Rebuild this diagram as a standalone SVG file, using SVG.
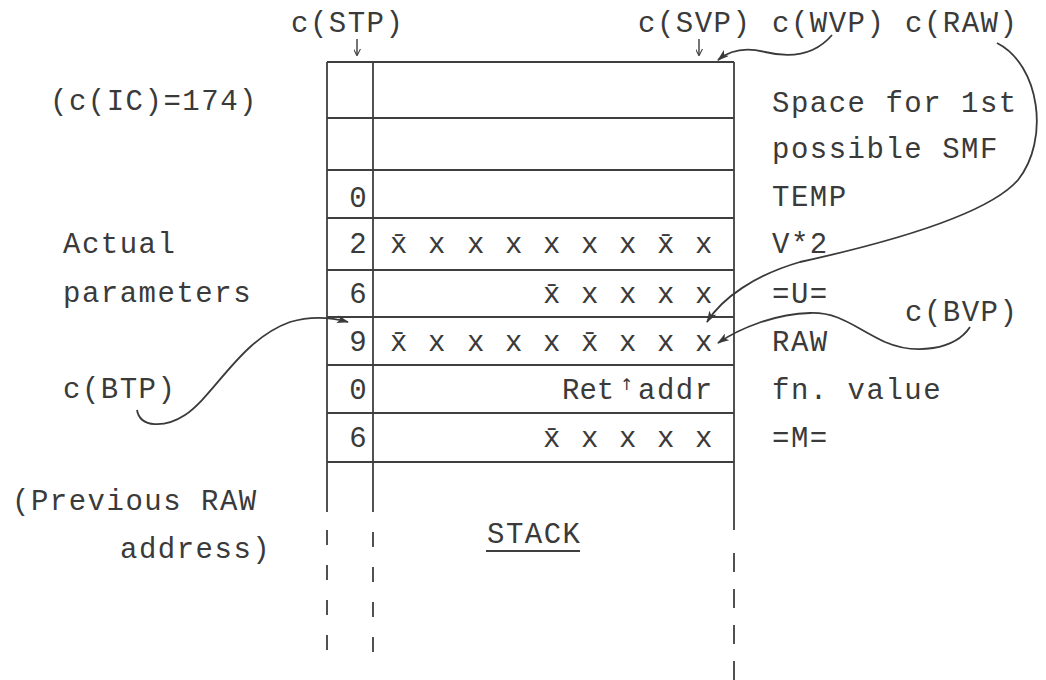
<svg xmlns="http://www.w3.org/2000/svg" width="1046" height="680" viewBox="0 0 1046 680">
<style>
  text { font-family: "Liberation Mono", "DejaVu Sans Mono", monospace; font-size: 29px; letter-spacing: 1.5px; fill: #3a3a3a; }
  .ln { stroke: #3f3f3f; stroke-width: 1.8; fill: none; }
  .cv { stroke: #3a3a3a; stroke-width: 1.8; fill: none; marker-end: url(#ah); }
  .sm { stroke: #3a3a3a; stroke-width: 1.4; fill: none; marker-end: url(#ahs); }
  .dg { text-anchor: middle; letter-spacing: 0; }
  .up { font-family: "DejaVu Sans", "Liberation Sans", sans-serif; font-size: 16px; letter-spacing: 0; fill: #3a3a3a; }
</style>
<defs>
  <marker id="ah" viewBox="0 0 12 8" refX="11" refY="4" markerWidth="12" markerHeight="8" markerUnits="userSpaceOnUse" orient="auto">
    <path d="M0,0 L12,4 L0,8 L3,4 z" fill="#3a3a3a"/>
  </marker>
  <marker id="ahs" viewBox="0 0 8 8" refX="7" refY="4" markerWidth="7" markerHeight="7" markerUnits="userSpaceOnUse" orient="auto">
    <path d="M0,0 L8,4 L0,8" fill="none" stroke="#3a3a3a" stroke-width="1.2"/>
  </marker>
</defs>
<rect width="1046" height="680" fill="#ffffff"/>

<g id="stack">
  <line class="ln" x1="327" y1="62" x2="734" y2="62"/>
  <line class="ln" x1="327" y1="118" x2="734" y2="118"/>
  <line class="ln" x1="327" y1="170" x2="734" y2="170"/>
  <line class="ln" x1="327" y1="218" x2="734" y2="218"/>
  <line class="ln" x1="327" y1="270" x2="734" y2="270"/>
  <line class="ln" x1="327" y1="317" x2="734" y2="317"/>
  <line class="ln" x1="327" y1="365" x2="734" y2="365"/>
  <line class="ln" x1="327" y1="413" x2="734" y2="413"/>
  <line class="ln" x1="327" y1="462" x2="734" y2="462"/>
  <line class="ln" x1="327" y1="62" x2="327" y2="512"/>
  <line class="ln" x1="373" y1="62" x2="373" y2="512"/>
  <line class="ln" x1="734" y1="62" x2="734" y2="530"/>
  <line class="ln" x1="327" y1="530" x2="327" y2="660" stroke-dasharray="15 20" stroke-width="1.5"/>
  <line class="ln" x1="373" y1="532" x2="373" y2="662" stroke-dasharray="15 20" stroke-width="1.5"/>
  <line class="ln" x1="734" y1="553" x2="734" y2="680" stroke-dasharray="19 17" stroke-width="1.5"/>
  <text class="dg" x="358" y="207">0</text>
  <text class="dg" x="358" y="253">2</text>
  <text class="dg" x="358" y="303">6</text>
  <text class="dg" x="358" y="351">9</text>
  <text class="dg" x="358" y="399">0</text>
  <text class="dg" x="358" y="447">6</text>
  <text y="253"><tspan x="390">x̄</tspan><tspan x="428">x</tspan><tspan x="467">x</tspan><tspan x="505">x</tspan><tspan x="543">x</tspan><tspan x="581">x</tspan><tspan x="619">x</tspan><tspan x="657">x̄</tspan><tspan x="695">x</tspan></text>
  <text y="303"><tspan x="543">x̄</tspan><tspan x="581">x</tspan><tspan x="619">x</tspan><tspan x="657">x</tspan><tspan x="695">x</tspan></text>
  <text y="351"><tspan x="390">x̄</tspan><tspan x="428">x</tspan><tspan x="467">x</tspan><tspan x="505">x</tspan><tspan x="543">x</tspan><tspan x="581">x̄</tspan><tspan x="619">x</tspan><tspan x="657">x</tspan><tspan x="695">x</tspan></text>
  <text y="399"><tspan x="562" letter-spacing="0">Ret</tspan><tspan class="up" x="620" dy="-9">↑</tspan><tspan x="638" dy="9">addr</tspan></text>
  <text y="447"><tspan x="543">x̄</tspan><tspan x="581">x</tspan><tspan x="619">x</tspan><tspan x="657">x</tspan><tspan x="695">x</tspan></text>
  <text x="487" y="543">STACK</text>
  <line class="ln" x1="486" y1="551" x2="580" y2="551"/>
</g>

<g id="labels-top">
  <text x="291" y="32">c(STP)</text>
  <text x="638" y="32">c(SVP)</text>
  <text x="772" y="32">c(WVP)</text>
  <text x="905" y="32">c(RAW)</text>
</g>

<g id="labels-right">
  <text x="772" y="112">Space for 1st</text>
  <text x="772" y="158">possible SMF</text>
  <text x="772" y="206">TEMP</text>
  <text x="772" y="253">V*2</text>
  <text x="772" y="303">=U=</text>
  <text x="772" y="351">RAW</text>
  <text x="772" y="399">fn. value</text>
  <text x="772" y="447">=M=</text>
  <text x="905" y="321">c(BVP)</text>
</g>

<g id="labels-left">
  <text x="50" y="110">(c(IC)=174)</text>
  <text x="63" y="253">Actual</text>
  <text x="63" y="302">parameters</text>
  <text x="63" y="398">c(BTP)</text>
  <text x="12" y="510">(Previous RAW</text>
  <text x="120" y="558">address)</text>
</g>

<g id="connectors">
  <line class="sm" x1="357" y1="39" x2="357" y2="55"/>
  <line class="sm" x1="699" y1="39" x2="699" y2="55"/>
  <path class="cv" d="M832 35 C815 55 790 58 765 52 C745 47 730 50 718 60"/>
  <path class="cv" d="M997 43 C1040 65 1050 140 1018 180 C990 212 900 240 800 262 C755 275 722 298 707 322"/>
  <path class="cv" d="M970 327 C955 350 915 355 885 342 C855 328 840 312 810 313 C775 314 740 328 718 343"/>
  <path class="cv" d="M137 410 C140 428 165 428 185 415 C215 395 240 340 290 322 C310 316 330 317 348 322"/>
</g>
</svg>
